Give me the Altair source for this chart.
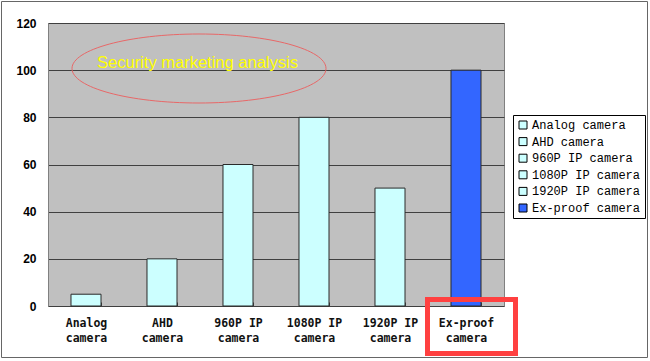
import altair as alt
import pandas as pd

categories = ["Analog camera", "AHD camera", "960P IP camera",
              "1080P IP camera", "1920P IP camera", "Ex-proof camera"]
values = [5, 20, 60, 80, 50, 100]
bar_colors = ["#CCFFFF", "#CCFFFF", "#CCFFFF", "#CCFFFF", "#CCFFFF", "#3366FF"]
y_ticks = [0, 20, 40, 60, 80, 100, 120]
title_text = ["Security marketing analysis"]

df = pd.DataFrame({"category": categories, "value": values})
one = pd.DataFrame({"t": title_text})

W, H = 456, 283
L, T = 48, 23

label_expr = ("[slice(datum.label, 0, lastindexof(datum.label, ' ')), "
              "slice(datum.label, lastindexof(datum.label, ' ') + 1)]")

bars = alt.Chart(df).mark_bar(stroke="#2a2a2a", strokeWidth=1).encode(
    x=alt.X("category:N", sort=None, title=None,
            scale=alt.Scale(paddingInner=0.605, paddingOuter=0.3025),
            axis=alt.Axis(labelAngle=0, labelExpr=label_expr, labelFont="DejaVu Sans Mono",
                          labelFontWeight="bold", labelFontSize=11.5, labelColor="#111111",
                          labelLineHeight=15.5, labelPadding=11, labelBaseline="top",
                          tickBand="extent", tickSize=4, tickColor="#404040",
                          offset=-4, domain=False, grid=False)),
    y=alt.Y("value:Q", title=None,
            scale=alt.Scale(domain=[0, 120], nice=False),
            axis=alt.Axis(values=y_ticks, labelFont="Liberation Sans", labelFontWeight="bold",
                          labelFontSize=12, labelColor="#000000", labelPadding=12, tickSize=0,
                          gridColor="#404040", gridWidth=1, domainColor="#808080")),
    color=alt.Color("category:N", sort=None,
                    scale=alt.Scale(domain=categories, range=bar_colors),
                    legend=alt.Legend(orient="none", legendX=465, legendY=92, title=None))
)

ellipse = alt.Chart(one).mark_point(
    shape="M -1 0 A 1 0.2717 0 1 1 1 0 A 1 0.2717 0 1 1 -1 0",
    size=254 * 254, filled=False, stroke="#E86868", strokeWidth=1, opacity=1
).encode(x=alt.value(199 - L), y=alt.value(68.5 - T))

title = alt.Chart(one).mark_text(
    font="Liberation Sans", fontSize=16.5, color="#FFFF00", baseline="middle", align="center"
).encode(text="t:N", x=alt.value(197.5 - L), y=alt.value(63 - T))

highlight = alt.Chart(one).mark_rect(
    fillOpacity=0, stroke="#FF4040", strokeWidth=5
).encode(x=alt.value(427.5 - L), x2=alt.value(515.5 - L),
         y=alt.value(299.5 - T), y2=alt.value(353.5 - T))

frame = alt.Chart(one).mark_rect(
    fillOpacity=0, stroke="#666666", strokeWidth=1
).encode(x=alt.value(1.5 - L), x2=alt.value(647.5 - L),
         y=alt.value(1.5 - T), y2=alt.value(357.5 - T))

chart = alt.layer(frame, bars, ellipse, title, highlight).properties(
    width=W, height=H,
    autosize=alt.AutoSizeParams(type="none"),
    padding={"left": L, "top": T, "right": 650 - L - W, "bottom": 361 - T - H},
).configure_view(
    fill="#C0C0C0", stroke="#808080", strokeWidth=1
).configure_legend(
    labelFont="Liberation Mono", labelFontSize=12, labelColor="#000000", labelOffset=3,
    symbolType="square", symbolSize=64, symbolStrokeColor="#000000", symbolStrokeWidth=1,
    symbolOpacity=1, strokeColor="#000000", fillColor="#FFFFFF", padding=4, rowPadding=4.6
)

chart.save("out.html", embed_options={"renderer": "svg", "actions": False})
